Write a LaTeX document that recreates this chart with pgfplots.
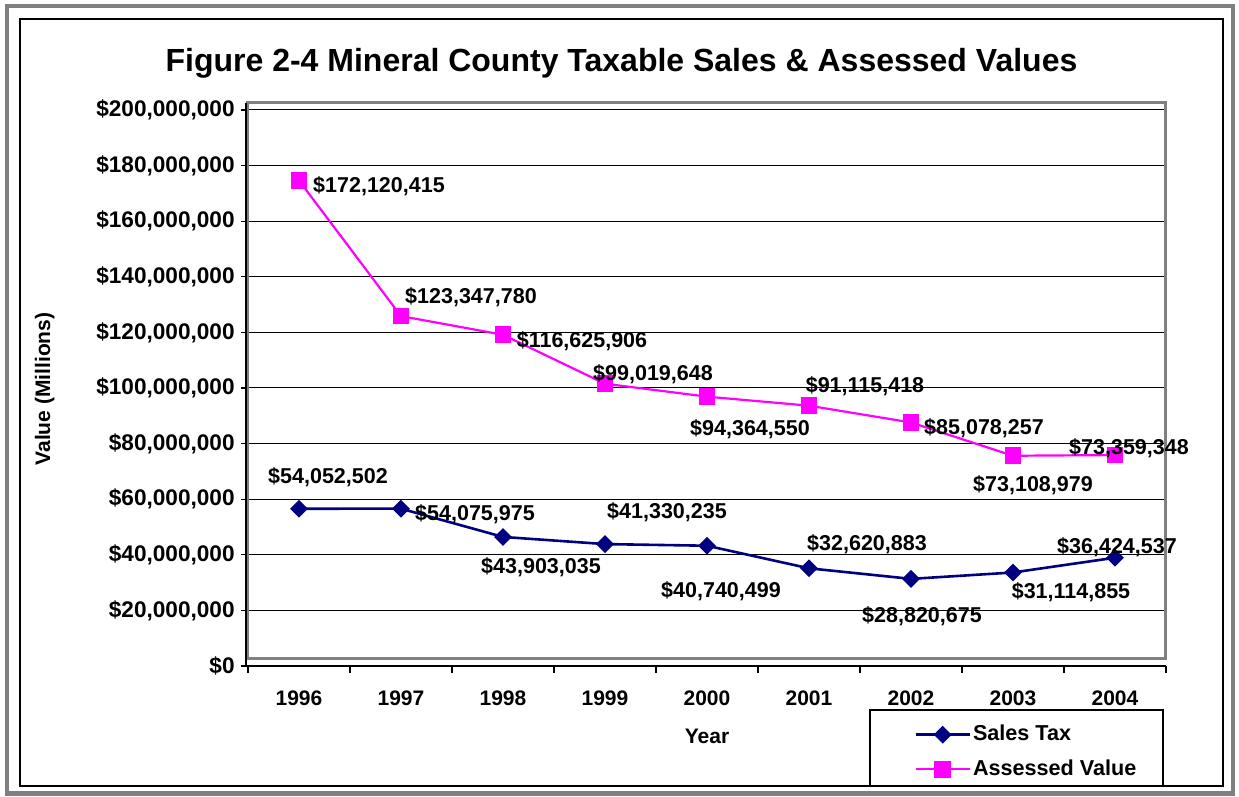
\documentclass[border=0pt]{standalone}
\usepackage{pgfplots}
\pgfplotsset{compat=1.18}
\usepackage{fontspec}
\setmainfont{Liberation Sans}
\definecolor{navy}{RGB}{0,0,128}
\definecolor{magen}{RGB}{255,0,255}
\definecolor{frgray}{RGB}{128,128,128}
\newcommand\lf{\fontsize{10.5pt}{12.6pt}\selectfont\bfseries}
\newcommand\df{\fontsize{10.75pt}{12.9pt}\selectfont\bfseries}
\newcommand\yf{\fontsize{11.3pt}{13.5pt}\selectfont\bfseries}
\newcommand\gf{\fontsize{10.8pt}{13pt}\selectfont\bfseries}
\begin{document}
\begin{tikzpicture}
\path[use as bounding box] (0,0) rectangle (619.5pt,398.5pt);
\draw[frgray, line width=2.2pt] (3.5pt,1.8pt) rectangle (616.5pt,395.5pt);
\draw[black, line width=0.8pt] (10pt,5.5pt) rectangle (611.5pt,389pt);
\node[font=\fontsize{16pt}{19pt}\selectfont\bfseries, anchor=base] at (310.75pt,362.5pt) {Figure 2-4 Mineral County Taxable Sales \& Assessed Values};
\begin{axis}[
  at={(124pt,69pt)}, anchor=south west,
  scale only axis, width=459pt, height=278pt,
  xmin=0.5, xmax=9.5, ymin=0, ymax=200000000,
  axis line style={draw=frgray, line width=1.5pt},
  ymajorgrids, grid style={black, line width=0.5pt, yshift=-3.5pt},
  xtick={0.5,1.5,2.5,3.5,4.5,5.5,6.5,7.5,8.5,9.5},
  xticklabels={1996,1997,1998,1999,2000,2001,2002,2003,2004,{}},
  ytick={0,20000000,40000000,60000000,80000000,100000000,120000000,140000000,160000000,180000000,200000000},
  yticklabels={{\$0},{\$20,000,000},{\$40,000,000},{\$60,000,000},{\$80,000,000},{\$100,000,000},{\$120,000,000},{\$140,000,000},{\$160,000,000},{\$180,000,000},{\$200,000,000}},
  scaled y ticks=false,
  xtick pos=bottom, ytick pos=left,
  tick align=outside, major tick length=3.5pt,
  tick style={black, line width=0.6pt, yshift=-3.5pt},
  xticklabel style={font=\lf, anchor=center, xshift=25.5pt, yshift=-16pt},
  yticklabel style={font=\yf, anchor=east, inner sep=0pt, xshift=-3pt, yshift=-3.5pt},
  clip=false,
  legend style={draw=none, fill=none, at={(axis description cs:0.7255,-0.115)}, anchor=north west,
    inner sep=0pt, font=\gf, row sep=6pt, nodes={inner sep=1pt}},
  legend cell align=left,
  legend image code/.code={\draw[mark repeat=2, mark phase=2] plot coordinates {(0pt,0pt)(13.5pt,0pt)(27pt,0pt)};},
  every node near coord/.append style={font=\df, text=black, anchor=center, inner sep=0pt},
]
\draw[black, line width=0.6pt] ([xshift=-1pt]rel axis cs:0,1) -- ([xshift=-1pt,yshift=-3.5pt]rel axis cs:0,0) -- ([yshift=-3.5pt]rel axis cs:1,0);
\addplot[color=navy, line width=1.3pt, mark=square*, mark size=2.5pt,
  mark options={rotate=45, solid, fill=navy},
  point meta=explicit symbolic,
  nodes near coords={\$\pgfplotspointmeta},
  visualization depends on={value \thisrow{dx}\as\dx},
  visualization depends on={value \thisrow{dy}\as\dy},
  nodes near coords style={anchor=center, xshift=\dx pt, yshift=\dy pt},
] table[x=x, y=y, meta=lab] {
x y lab dx dy
1 54052502 54,052,502 14.5 16
2 54075975 54,075,975 37 -3
3 43903035 43,903,035 19 -15
4 41330235 41,330,235 31 16
5 40740499 40,740,499 7 -22.5
6 32620883 32,620,883 29 12
7 28820675 28,820,675 5.5 -18.5
8 31114855 31,114,855 29 -10
9 36424537 36,424,537 1 5.5
};
\addlegendentry{Sales Tax}
\addplot[color=magen, line width=1.1pt, mark=square*, mark size=3.6pt,
  mark options={solid, fill=magen},
  point meta=explicit symbolic,
  nodes near coords={\$\pgfplotspointmeta},
  visualization depends on={value \thisrow{dx}\as\dx},
  visualization depends on={value \thisrow{dy}\as\dy},
  nodes near coords style={anchor=center, xshift=\dx pt, yshift=\dy pt},
] table[x=x, y=y, meta=lab] {
x y lab dx dy
1 172120415 172,120,415 40 -3
2 123347780 123,347,780 35 9.5
3 116625906 116,625,906 39.5 -3
4 99019648 99,019,648 24 5
5 94364550 94,364,550 21.5 -16.5
6 91115418 91,115,418 28 10
7 85078257 85,078,257 36.5 -3
8 73108979 73,108,979 10 -14.5
9 73359348 73,359,348 7 3.5
};
\addlegendentry{Assessed Value}
\end{axis}
\draw[black, line width=0.6pt] (435pt,5.5pt) rectangle (581.5pt,43.5pt);
\node[font=\lf, rotate=90, anchor=base] at (25pt,204pt) {Value (Millions)};
\node[font=\lf, anchor=base] at (353.5pt,26.5pt) {Year};
\end{tikzpicture}
\end{document}
